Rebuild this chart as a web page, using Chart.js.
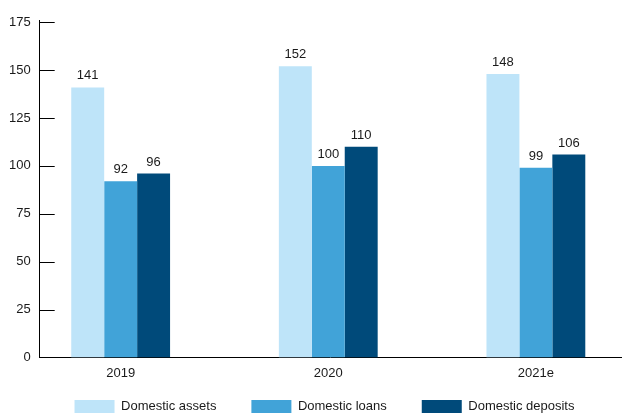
<!DOCTYPE html>
<html>
<head>
<meta charset="utf-8">
<script src="https://cdn.jsdelivr.net/npm/chart.js@4/dist/chart.umd.min.js"></script>
<style>
html,body{margin:0;padding:0;background:#fff;}
#wrap{width:622px;height:414px;position:relative;}
</style>
</head>
<body>
<div id="wrap"><canvas id="c" width="622" height="414"></canvas></div>
<script>
const categories = ["2019", "2020", "2021e"];
const seriesNames = ["Domestic assets", "Domestic loans", "Domestic deposits"];
const assets = [141, 152, 148];
const loans = [92, 100, 99];
const deposits = [96, 110, 106];
const yTicks = [0, 25, 50, 75, 100, 125, 150, 175];

const colors = ["#BEE4F9", "#41A3D8", "#004A7A"];
const FONT = "'Liberation Sans', Arial, sans-serif";

function toPoints(arr){ return arr.map((v,i)=>({x:i, y:v})); }

const labelPlugin = {
  id: 'barLabels',
  afterDatasetsDraw(chart){
    const ctx = chart.ctx;
    ctx.save();
    ctx.font = "13px " + FONT;
    ctx.fillStyle = "#1a1a1a";
    ctx.textAlign = "center";
    ctx.textBaseline = "bottom";
    chart.data.datasets.forEach((ds, di) => {
      const meta = chart.getDatasetMeta(di);
      meta.data.forEach((el, i) => {
        ctx.fillText(String(ds.data[i].y), el.x, el.y - 5);
      });
    });
    ctx.restore();
  }
};

const tickPlugin = {
  id: 'innerTicks',
  afterDraw(chart){
    const ctx = chart.ctx;
    const y = chart.scales.y;
    const left = chart.chartArea.left;
    ctx.save();
    ctx.strokeStyle = "#000";
    ctx.lineWidth = 1;
    y.ticks.forEach(t => {
      const py = Math.round(y.getPixelForValue(t.value)) + 0.5;
      ctx.beginPath();
      ctx.moveTo(left, py);
      ctx.lineTo(left + 15, py);
      ctx.stroke();
    });
    ctx.restore();
  }
};

const legendFix = {
  id: 'legendFix',
  beforeLayout(chart){
    const lg = chart.legend;
    if (lg && !lg._patched){
      const orig = lg.fit;
      lg.fit = function(){ orig.call(this); this.height = 25; };
      lg._patched = true;
    }
  },
  afterLayout(chart){
    const lg = chart.legend;
    if (!lg) return;
    lg.top = 365; lg.bottom = 414;
    lg.left += 14; lg.right += 14;
  }
};

new Chart(document.getElementById('c'), {
  type: 'bar',
  data: {
    datasets: [
      {label: seriesNames[0], data: toPoints(assets), backgroundColor: colors[0]},
      {label: seriesNames[1], data: toPoints(loans), backgroundColor: colors[1]},
      {label: seriesNames[2], data: toPoints(deposits), backgroundColor: colors[2]}
    ]
  },
  options: {
    responsive: false,
    animation: false,
    devicePixelRatio: 1,
    barPercentage: 1,
    categoryPercentage: 0.476,
    layout: {padding: {left: 0, right: 1, top: 20, bottom: 0}},
    plugins: {
      tooltip: {enabled: false},
      legend: {
        position: 'bottom',
        labels: {
          boxWidth: 40,
          boxHeight: 13,
          padding: 35,
          color: "#1a1a1a",
          font: {family: FONT, size: 13}
        }
      }
    },
    scales: {
      x: {
        type: 'linear',
        offset: false,
        min: -0.39,
        max: 2.41,
        afterBuildTicks(scale){ scale.ticks = categories.map((c,i)=>({value:i})); },
        ticks: {
          color: "#1a1a1a",
          font: {family: FONT, size: 13},
          padding: 8,
          autoSkip: false,
          maxRotation: 0,
          callback: (v) => categories[v]
        },
        grid: {display: false, drawTicks: false, offset: false},
        border: {display: true, color: "#000", width: 1}
      },
      y: {
        min: 0,
        max: 176.2,
        afterBuildTicks(scale){ scale.ticks = yTicks.map(v=>({value:v})); },
        ticks: {
          color: "#1a1a1a",
          font: {family: FONT, size: 13},
          padding: 9,
          autoSkip: false,
          callback: (v) => String(v)
        },
        grid: {display: false, drawTicks: false},
        border: {display: true, color: "#000", width: 1}
      }
    }
  },
  plugins: [labelPlugin, tickPlugin, legendFix]
});
</script>
</body>
</html>
